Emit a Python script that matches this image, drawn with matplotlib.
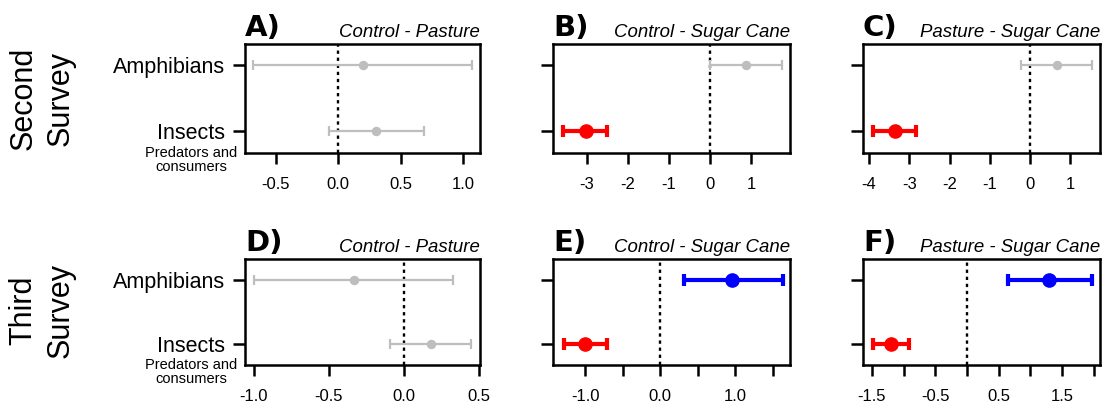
import matplotlib
matplotlib.use("Agg")
import matplotlib.pyplot as plt

plt.rcParams['font.family'] = ['Liberation Sans', 'DejaVu Sans']

############################### Data #############################################

groups = ["Insects", "Amphibians"]          # y = 1, 2
letters = ["A)", "B)", "C)", "D)", "E)", "F)"]
titles = ["Control - Pasture", "Control - Sugar Cane", "Pasture - Sugar Cane"] * 2
surveys = ["Second\nSurvey", "Third\nSurvey"]
sublabel = "Predators and\nconsumers"

# estimates and 95% intervals: [insects, amphibians] per panel
mean = [[0.30, 0.20], [-3.02, 0.88], [-3.36, 0.67],
        [0.18, -0.33], [-1.00, 0.96], [-1.20, 1.29]]
lower = [[-0.07, -0.68], [-3.59, 0.00], [-3.90, -0.22],
         [-0.09, -1.00], [-1.29, 0.31], [-1.48, 0.65]]
upper = [[0.69, 1.07], [-2.51, 1.76], [-2.84, 1.54],
         [0.45, 0.33], [-0.71, 1.63], [-0.91, 1.97]]
# -1 below zero, 0 not significant, 1 above zero
sig = [[0, 0], [-1, 0], [-1, 0],
       [0, 0], [-1, 1], [-1, 1]]

xlims = [(-0.744, 1.136), (-3.83, 1.95), (-4.15, 1.74),
         (-1.06, 0.507), (-1.43, 1.73), (-1.64, 2.10)]
xticks = [[-0.5, 0.0, 0.5, 1.0], [-3, -2, -1, 0, 1], [-4, -3, -2, -1, 0, 1],
          [-1.0, -0.5, 0.0, 0.5], [-1.0, -0.5, 0.0, 0.5, 1.0, 1.5],
          [-1.5, -1.0, -0.5, 0.0, 0.5, 1.0, 1.5, 2.0]]
xticklabels = [["-0.5", "0.0", "0.5", "1.0"], ["-3", "-2", "-1", "0", "1"],
               ["-4", "-3", "-2", "-1", "0", "1"],
               ["-1.0", "-0.5", "0.0", "0.5"], ["-1.0", "", "0.0", "", "1.0", ""],
               ["-1.5", "", "-0.5", "", "0.5", "", "1.5", ""]]

##################### Layout (pixels) ########################

W, H = 1103, 409
col_l = [245, 553, 863]
col_r = [480, 790, 1100]
row_t = [44, 259]
row_b = [153, 365]

colors = {-1: "#FF0000", 0: "#BEBEBE", 1: "#0000FF"}

fig = plt.figure(figsize=(W / 100, H / 100), dpi=100)

for p in range(6):
    r, c = divmod(p, 3)
    l, rr, t, b = col_l[c], col_r[c], row_t[r], row_b[r]
    ax = fig.add_axes([l / W, 1 - b / H, (rr - l) / W, (b - t) / H])
    hpx = b - t

    ax.axvline(0, color="black", lw=1.7, ls=(0, (1.4, 1.6)), zorder=1)
    for i in range(2):
        s = sig[p][i]
        m = mean[p][i]
        err = [[m - lower[p][i]], [upper[p][i] - m]]
        if s == 0:
            ax.errorbar(m, i + 1, xerr=err, fmt="o", color=colors[s], ms=5.8,
                        elinewidth=1.6, capsize=3.6, capthick=1.6, zorder=2)
        else:
            ax.errorbar(m, i + 1, xerr=err, fmt="o", color=colors[s], ms=9.5,
                        elinewidth=3, capsize=4.5, capthick=3, zorder=3)

    ax.set_xlim(xlims[p])
    ax.set_ylim(0.67, 2.32)
    ax.set_xticks(xticks[p])
    ax.set_xticklabels(xticklabels[p], fontsize=12)
    ax.set_yticks([1, 2])
    if c == 0:
        ax.set_yticklabels(groups, fontsize=15.5)
    else:
        ax.set_yticklabels([])
    ax.tick_params(axis="x", length=8, width=1.8, pad=9)
    ax.tick_params(axis="y", length=8.5, width=1.8, pad=6)
    for sp in ax.spines.values():
        sp.set_linewidth(1.8)

    ax.text(0, 1 + 8 / hpx, letters[p], transform=ax.transAxes, ha="left",
            va="baseline", fontsize=21, fontweight="bold", family="DejaVu Sans")
    ax.text(1, 1 + 7 / hpx, titles[p], transform=ax.transAxes, ha="right",
            va="baseline", fontsize=13.4, style="italic")

# small note under the Insects label
for yc in [160, 372]:
    fig.text(191 / W, 1 - yc / H, sublabel, ha="center", va="center",
             fontsize=10.5, linespacing=1.05)

fig.text(42 / W, 1 - 98 / H, surveys[0], rotation=90, ha="center", va="center",
         fontsize=22, linespacing=1.3)
fig.text(42 / W, 1 - 310 / H, surveys[1], rotation=90, ha="center", va="center",
         fontsize=22, linespacing=1.3)

plt.savefig("out.png", dpi=100)
